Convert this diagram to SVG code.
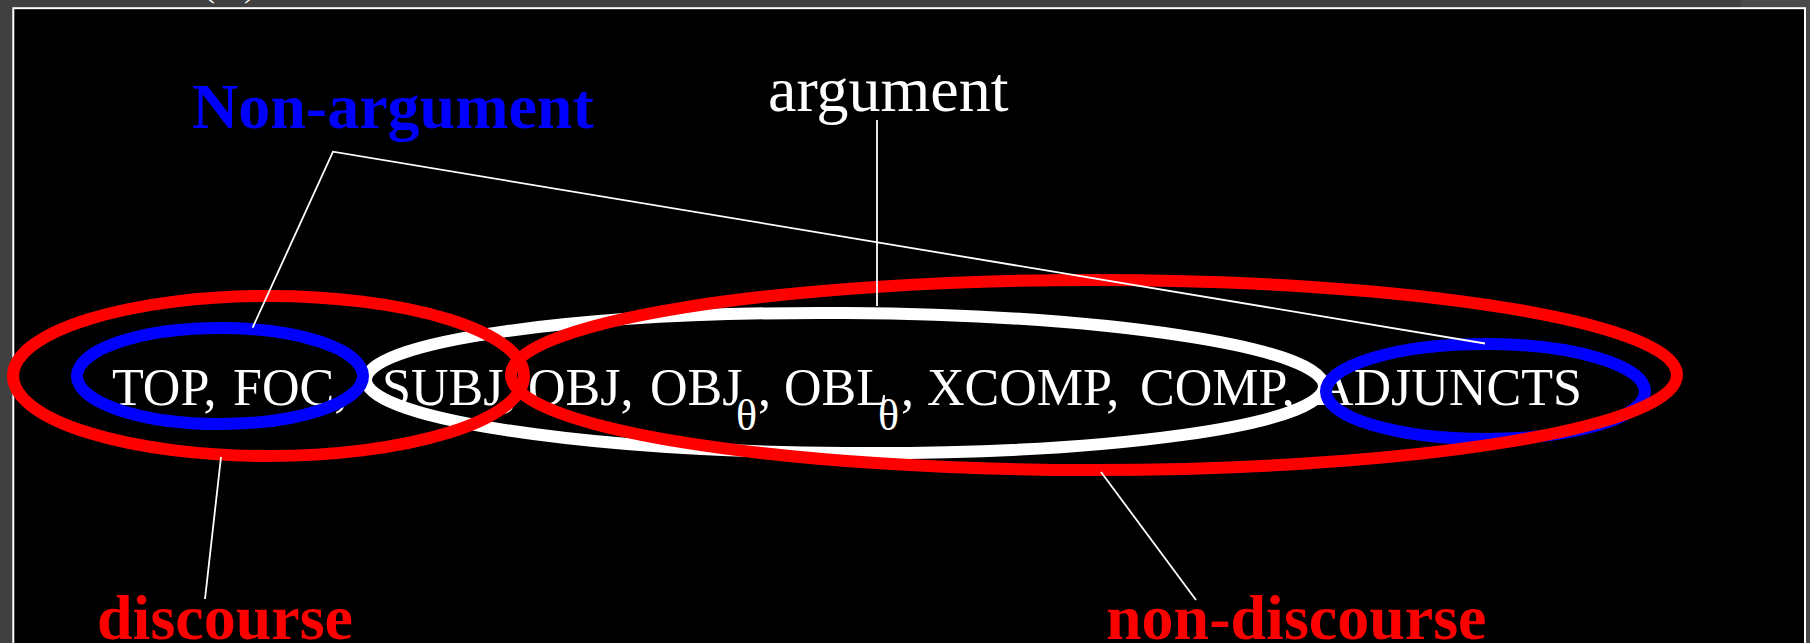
<svg xmlns="http://www.w3.org/2000/svg" width="1810" height="643" viewBox="0 0 1810 643">
  <style>
    .lbl { font-family: "Liberation Serif", "Times New Roman", serif; }
    .bold { font-weight: bold; font-size: 64px; }
    .main { font-size: 52px; fill: #ffffff; }
    .sub { font-size: 44px; fill: #ffffff; }
    .ring { fill: none; stroke-width: 12; }
    .red { stroke: #ff0000; }
    .blue { stroke: #0000ff; }
    .white { stroke: #ffffff; }
    .conn { stroke: #ffffff; stroke-width: 1.8; fill: none; }
  </style>

  <!-- slide frame -->
  <rect x="0" y="0" width="1810" height="643" fill="#404040"/>
  <rect x="1741" y="0" width="69" height="643" fill="#4a4a4a"/>
  <rect x="13.3" y="8.2" width="1791.7" height="660" fill="#000000" stroke="#ffffff" stroke-width="2"/>
  <text class="lbl" x="203" y="-4" font-size="36" fill="#ffffff"><tspan x="203">(</tspan><tspan x="244">)</tspan></text>

  <g id="node-items">
    <text class="lbl main" y="405"><tspan x="112">TOP,</tspan><tspan x="233">FOC,</tspan><tspan x="382">SUBJ,</tspan><tspan x="528">OBJ,</tspan><tspan x="650">OBJ</tspan><tspan class="sub" x="736" y="430">θ</tspan><tspan x="758" y="405">, OBL</tspan><tspan class="sub" x="878" y="430">θ</tspan><tspan x="901" y="405">, XCOMP,</tspan><tspan x="1140">COMP,</tspan><tspan x="1316">ADJUNCTS</tspan></text>
  </g>

  <g id="node-argument-ellipse">
    <ellipse class="ring white" cx="845" cy="383" rx="479" ry="70" transform="rotate(0.4 845 383)"/>
  </g>
  <g id="node-nonarg-left-ellipse">
    <ellipse class="ring blue" cx="220" cy="376" rx="143" ry="48"/>
  </g>
  <g id="node-nonarg-right-ellipse">
    <ellipse class="ring blue" cx="1485.5" cy="391.5" rx="159.5" ry="47.5"/>
  </g>
  <g id="node-discourse-ellipse">
    <ellipse class="ring red" cx="268.5" cy="376" rx="255.5" ry="80"/>
  </g>
  <g id="node-nondiscourse-ellipse">
    <ellipse class="ring red" cx="1094" cy="375" rx="583" ry="95"/>
  </g>

  <g id="connectors">
    <polyline class="conn" points="252.6,327.7 333,151.7 1485,343.5"/>
    <line class="conn" x1="877" y1="120" x2="877" y2="306"/>
    <line class="conn" x1="221" y1="457" x2="205" y2="599"/>
    <line class="conn" x1="1101" y1="472" x2="1196" y2="600"/>
  </g>

  <g id="node-non-argument">
    <text class="lbl bold" x="192" y="128" fill="#0000ff">Non-argument</text>
  </g>
  <g id="node-argument">
    <text class="lbl" x="768" y="111" font-size="64" fill="#ffffff">argument</text>
  </g>
  <g id="node-discourse">
    <text class="lbl bold" x="97" y="639" fill="#ff0000">discourse</text>
  </g>
  <g id="node-non-discourse">
    <text class="lbl bold" x="1106" y="639" fill="#ff0000">non-discourse</text>
  </g>
</svg>
